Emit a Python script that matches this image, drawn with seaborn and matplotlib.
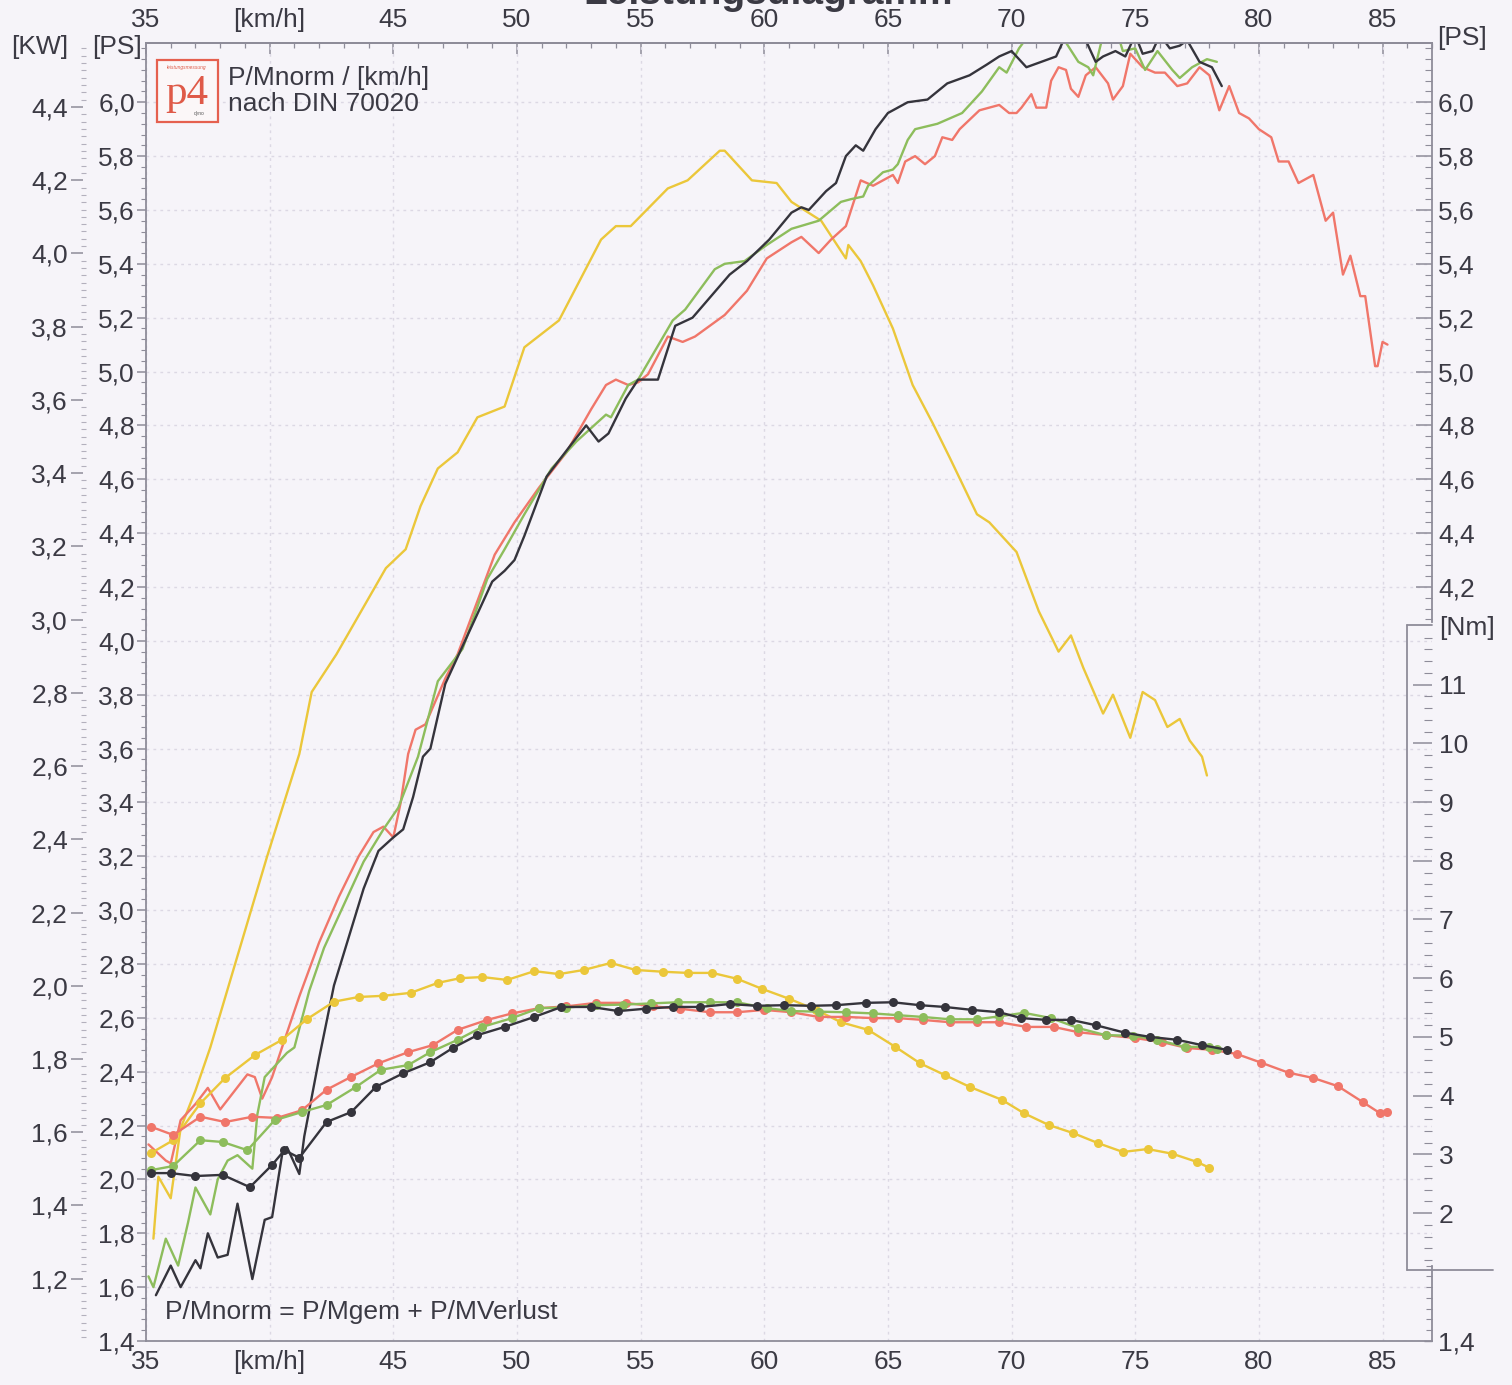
import matplotlib
matplotlib.use("Agg")
import numpy as np
import pandas as pd
import matplotlib.pyplot as plt
import seaborn as sns
from matplotlib.ticker import FixedLocator, FuncFormatter, MultipleLocator
from matplotlib.lines import Line2D
from matplotlib.patches import Rectangle

# ---------------- data ----------------
# Power curves [PS] vs speed [km/h]
yel_pw_v = [35.3, 35.5, 36.0, 36.4, 37.0, 37.6, 38.7, 39.9, 41.2, 41.7, 42.7, 44.7, 45.5, 46.1, 46.8,
            47.6, 48.4, 49.5, 50.3, 51.7, 53.4, 54.0, 54.6, 56.1, 56.9, 58.2, 58.4, 59.5, 60.5, 61.1,
            62.3, 63.3, 63.4, 63.9, 64.4, 65.2, 66.0, 66.8, 67.5, 68.6, 69.1, 70.2, 71.1, 71.9, 72.4,
            72.9, 73.7, 74.1, 74.8, 75.3, 75.8, 76.3, 76.8, 77.2, 77.7, 77.9]
yel_pw = [1.78, 2.01, 1.93, 2.19, 2.33, 2.49, 2.83, 3.20, 3.58, 3.81, 3.95, 4.27, 4.34, 4.50, 4.64,
          4.70, 4.83, 4.87, 5.09, 5.19, 5.49, 5.54, 5.54, 5.68, 5.71, 5.82, 5.82, 5.71, 5.70, 5.63,
          5.56, 5.42, 5.47, 5.41, 5.32, 5.16, 4.95, 4.81, 4.68, 4.47, 4.44, 4.33, 4.11, 3.96, 4.02,
          3.90, 3.73, 3.80, 3.64, 3.81, 3.78, 3.68, 3.71, 3.63, 3.57, 3.50]

blk_pw_v = [35.4, 36.0, 36.4, 37.0, 37.2, 37.5, 37.9, 38.3, 38.7, 39.3, 39.8, 40.1, 40.5, 40.7, 41.2,
            41.4, 42.0, 42.6, 43.2, 43.8, 44.4, 45.0, 45.4, 45.8, 46.2, 46.5, 47.1, 47.9, 49.0, 49.5,
            49.9, 50.3, 51.2, 52.2, 52.8, 53.3, 53.7, 54.4, 54.9, 55.7, 56.4, 57.1, 58.6, 59.3, 60.2,
            61.1, 61.5, 61.8, 62.5, 62.9, 63.3, 63.7, 64.0, 64.5, 65.0, 65.8, 66.6, 67.4, 68.3, 69.0,
            69.5, 70.0, 70.6, 71.2, 71.8, 72.2, 72.9, 73.4, 73.7, 74.2, 74.6, 75.0, 75.3, 75.7, 76.0,
            76.4, 76.8, 77.1, 77.6, 78.1, 78.5]
blk_pw = [1.57, 1.68, 1.60, 1.70, 1.67, 1.80, 1.71, 1.72, 1.91, 1.63, 1.85, 1.86, 2.09, 2.12, 2.02,
          2.16, 2.45, 2.72, 2.90, 3.08, 3.22, 3.27, 3.30, 3.42, 3.57, 3.60, 3.84, 4.00, 4.22, 4.26,
          4.30, 4.39, 4.61, 4.73, 4.80, 4.74, 4.77, 4.90, 4.97, 4.97, 5.17, 5.20, 5.36, 5.41, 5.49,
          5.59, 5.61, 5.60, 5.67, 5.70, 5.80, 5.84, 5.82, 5.90, 5.96, 6.00, 6.01, 6.07, 6.10, 6.14,
          6.17, 6.19, 6.13, 6.15, 6.17, 6.25, 6.25, 6.15, 6.17, 6.19, 6.17, 6.25, 6.18, 6.19, 6.25,
          6.20, 6.21, 6.23, 6.15, 6.13, 6.06]

grn_pw_v = [35.1, 35.3, 35.8, 36.3, 36.7, 37.0, 37.6, 37.9, 38.3, 38.7, 39.3, 39.5, 39.8, 40.3, 40.7,
            41.0, 41.6, 42.2, 43.0, 43.8, 44.6, 45.2, 46.0, 46.8, 47.8, 48.8, 49.5, 50.3, 51.4, 52.4,
            53.6, 53.8, 54.5, 54.9, 56.3, 56.8, 58.0, 58.4, 59.2, 60.1, 61.1, 62.2, 63.1, 63.5, 64.0,
            64.2, 64.8, 65.2, 65.4, 65.8, 66.1, 67.0, 68.0, 68.8, 69.5, 69.8, 70.3, 70.7, 72.0, 72.7,
            73.1, 73.3, 73.7, 74.3, 74.5, 75.0, 75.4, 75.9, 76.5, 76.8, 77.3, 77.9, 78.3]
grn_pw = [1.64, 1.60, 1.78, 1.68, 1.84, 1.97, 1.87, 2.00, 2.07, 2.09, 2.04, 2.24, 2.38, 2.43, 2.47,
          2.49, 2.70, 2.86, 3.02, 3.18, 3.30, 3.38, 3.57, 3.85, 3.97, 4.23, 4.34, 4.47, 4.64, 4.74,
          4.84, 4.83, 4.95, 4.97, 5.19, 5.23, 5.38, 5.40, 5.41, 5.47, 5.53, 5.56, 5.63, 5.64, 5.65,
          5.69, 5.74, 5.75, 5.77, 5.86, 5.90, 5.92, 5.96, 6.04, 6.13, 6.11, 6.20, 6.25, 6.25, 6.15,
          6.13, 6.10, 6.25, 6.25, 6.19, 6.20, 6.12, 6.19, 6.12, 6.09, 6.13, 6.16, 6.15]

red_pw_v = [35.1, 35.8, 36.0, 36.4, 37.0, 37.5, 38.0, 39.1, 39.4, 39.7, 40.1, 40.5, 41.2, 42.0, 42.8,
            43.6, 44.2, 44.6, 45.0, 45.3, 45.6, 45.9, 46.3, 47.1, 47.6, 49.1, 49.9, 50.9, 52.0, 53.0,
            53.6, 54.0, 54.5, 54.9, 55.3, 56.1, 56.7, 57.2, 58.4, 59.3, 60.1, 61.1, 61.5, 62.2, 62.7,
            63.3, 63.9, 64.4, 64.8, 65.2, 65.4, 65.7, 66.1, 66.5, 66.9, 67.2, 67.6, 67.9, 68.7, 69.5,
            69.9, 70.2, 70.4, 70.8, 71.0, 71.4, 71.6, 71.9, 72.2, 72.4, 72.7, 73.0, 73.4, 73.9, 74.1,
            74.5, 74.8, 75.3, 75.8, 76.2, 76.7, 77.1, 77.6, 78.0, 78.4, 78.8, 79.2, 79.6, 80.0, 80.5,
            80.8, 81.2, 81.6, 82.2, 82.7, 83.0, 83.4, 83.7, 84.1, 84.3, 84.7, 84.8, 85.0, 85.2]
red_pw = [2.13, 2.07, 2.06, 2.22, 2.28, 2.34, 2.26, 2.39, 2.38, 2.30, 2.38, 2.49, 2.68, 2.88, 3.05,
          3.20, 3.29, 3.31, 3.27, 3.40, 3.58, 3.67, 3.69, 3.86, 3.95, 4.32, 4.44, 4.57, 4.70, 4.86,
          4.95, 4.97, 4.95, 4.96, 4.99, 5.13, 5.11, 5.13, 5.21, 5.30, 5.42, 5.48, 5.50, 5.44, 5.49,
          5.54, 5.71, 5.69, 5.71, 5.73, 5.70, 5.78, 5.80, 5.77, 5.80, 5.87, 5.86, 5.90, 5.97, 5.99,
          5.96, 5.96, 5.98, 6.03, 5.98, 5.98, 6.08, 6.13, 6.12, 6.05, 6.02, 6.10, 6.13, 6.07, 6.01,
          6.06, 6.18, 6.13, 6.11, 6.11, 6.06, 6.07, 6.13, 6.10, 5.97, 6.06, 5.96, 5.94, 5.90, 5.87,
          5.78, 5.78, 5.70, 5.73, 5.56, 5.59, 5.36, 5.43, 5.28, 5.28, 5.02, 5.02, 5.11, 5.10]

# Torque curves [Nm] vs speed [km/h]
yel_tq_v = [35.2, 36.1, 37.2, 38.2, 39.4, 40.5, 41.5, 42.6, 43.6, 44.6, 45.7, 46.8, 47.7, 48.6, 49.6,
            50.7, 51.7, 52.7, 53.8, 54.8, 55.9, 56.9, 57.9, 58.9, 59.9, 61.0, 62.1, 63.1, 64.2, 65.3,
            66.3, 67.3, 68.3, 69.6, 70.5, 71.5, 72.5, 73.5, 74.5, 75.5, 76.5, 77.5, 78.0]
yel_tq = [3.02, 3.24, 3.87, 4.30, 4.69, 4.95, 5.30, 5.60, 5.68, 5.70, 5.75, 5.92, 6.00, 6.02, 5.97,
          6.12, 6.07, 6.14, 6.26, 6.14, 6.11, 6.09, 6.09, 5.99, 5.82, 5.65, 5.46, 5.25, 5.12, 4.83,
          4.55, 4.35, 4.15, 3.93, 3.70, 3.50, 3.36, 3.19, 3.04, 3.09, 3.01, 2.87, 2.77]

blk_tq_v = [35.2, 36.0, 37.0, 38.1, 39.2, 40.1, 40.6, 41.2, 42.3, 43.3, 44.3, 45.4, 46.5, 47.4, 48.4,
            49.5, 50.7, 51.8, 53.0, 54.1, 55.2, 56.3, 57.4, 58.6, 59.7, 60.8, 61.9, 62.9, 64.1, 65.2,
            66.3, 67.3, 68.4, 69.5, 70.4, 71.4, 72.4, 73.4, 74.6, 75.6, 76.7, 77.7, 78.7]
blk_tq = [2.68, 2.68, 2.63, 2.65, 2.44, 2.82, 3.07, 2.94, 3.55, 3.72, 4.15, 4.38, 4.57, 4.81, 5.03,
          5.17, 5.34, 5.51, 5.51, 5.44, 5.48, 5.51, 5.51, 5.56, 5.53, 5.54, 5.53, 5.54, 5.58, 5.59,
          5.54, 5.51, 5.46, 5.42, 5.32, 5.29, 5.29, 5.20, 5.07, 5.00, 4.95, 4.86, 4.78]

grn_tq_v = [35.2, 36.1, 37.2, 38.1, 39.1, 40.2, 41.3, 42.3, 43.5, 44.5, 45.6, 46.5, 47.6, 48.6, 49.8,
            50.9, 52.0, 53.2, 54.3, 55.4, 56.5, 57.8, 58.9, 60.1, 61.1, 62.2, 63.3, 64.4, 65.4, 66.4,
            67.5, 68.6, 69.5, 70.5, 71.6, 72.7, 73.8, 74.9, 75.9, 77.0, 78.0, 78.3]
grn_tq = [2.73, 2.80, 3.24, 3.21, 3.07, 3.58, 3.72, 3.84, 4.15, 4.44, 4.52, 4.74, 4.95, 5.17, 5.32,
          5.49, 5.50, 5.54, 5.55, 5.57, 5.59, 5.59, 5.59, 5.49, 5.44, 5.43, 5.42, 5.40, 5.37, 5.34,
          5.30, 5.30, 5.35, 5.41, 5.32, 5.15, 5.03, 5.02, 4.95, 4.83, 4.83, 4.80]

red_tq_v = [35.2, 36.1, 37.2, 38.2, 39.3, 40.3, 41.3, 42.3, 43.3, 44.4, 45.6, 46.6, 47.6, 48.8, 49.8,
            50.9, 52.0, 53.2, 54.4, 55.5, 56.6, 57.8, 58.9, 60.0, 61.1, 62.2, 63.3, 64.4, 65.4, 66.4,
            67.5, 68.6, 69.5, 70.6, 71.7, 72.7, 73.8, 75.0, 76.1, 77.1, 78.1, 79.1, 80.1, 81.2, 82.2,
            83.2, 84.2, 84.9, 85.2]
red_tq = [3.47, 3.33, 3.64, 3.55, 3.64, 3.62, 3.75, 4.10, 4.32, 4.55, 4.74, 4.86, 5.12, 5.29, 5.40,
          5.49, 5.52, 5.58, 5.58, 5.52, 5.48, 5.42, 5.42, 5.46, 5.42, 5.34, 5.34, 5.32, 5.32, 5.29,
          5.25, 5.25, 5.25, 5.17, 5.17, 5.08, 5.03, 4.98, 4.91, 4.81, 4.78, 4.71, 4.56, 4.39, 4.30,
          4.16, 3.89, 3.70, 3.72]

x_ticks = [35, 40, 45, 50, 55, 60, 65, 70, 75, 80, 85]
x_tick_labels = ["35", "[km/h]", "45", "50", "55", "60", "65", "70", "75", "80", "85"]
ps_ticks_left = [1.4, 1.6, 1.8, 2.0, 2.2, 2.4, 2.6, 2.8, 3.0, 3.2, 3.4, 3.6, 3.8, 4.0, 4.2, 4.4,
                 4.6, 4.8, 5.0, 5.2, 5.4, 5.6, 5.8, 6.0]
ps_ticks_right = [4.2, 4.4, 4.6, 4.8, 5.0, 5.2, 5.4, 5.6, 5.8, 6.0]
kw_ticks = [1.2, 1.4, 1.6, 1.8, 2.0, 2.2, 2.4, 2.6, 2.8, 3.0, 3.2, 3.4, 3.6, 3.8, 4.0, 4.2, 4.4]
nm_ticks = [2, 3, 4, 5, 6, 7, 8, 9, 10, 11]

# ---------------- styling ----------------
BG = "#f6f4f9"
TXT = "#3b3a44"
SPINE = "#8e8c99"
GRID = "#dcd8e4"
C_RED = "#f0766a"
C_GRN = "#8dbd5c"
C_YEL = "#ebc73a"
C_BLK = "#35343c"

sns.set_style("white")
plt.rcParams["font.family"] = ["Liberation Sans", "DejaVu Sans"]
FS = 19

W, H, DPI = 1512, 1385, 100
fig = plt.figure(figsize=(W / DPI, H / DPI), dpi=DPI, facecolor=BG)


def fx(p):
    return p / W


def fy(p):
    return 1 - p / H


def pt(px):
    return px * 72 / DPI


L, R, T, B = 146, 1432, 43, 1341
ax = fig.add_axes([fx(L), fy(B), (R - L) / W, (B - T) / H])
ax.set_facecolor(BG)

X_LIM = (35, 87.0)
PS_LIM = (1.4, 6.22)
KW_PER_PS = 0.7355
NM_LIM = (-0.18, 21.93)
NM_BOX = (1.03, 12.02)

ax.set_xlim(*X_LIM)
ax.set_ylim(*PS_LIM)

comma = FuncFormatter(lambda v, p: f"{v:.1f}".replace(".", ","))

# main axis styling
for s in ["left", "bottom", "top"]:
    ax.spines[s].set_color(SPINE)
    ax.spines[s].set_linewidth(1.3)
ax.spines["right"].set_visible(False)

ax.xaxis.set_major_locator(FixedLocator(x_ticks))
ax.xaxis.set_minor_locator(MultipleLocator(1))
ax.set_xticklabels(x_tick_labels)
ax.tick_params(axis="x", which="major", direction="in", length=pt(13), width=1.1,
               color=SPINE, labelcolor=TXT, labelsize=FS, pad=pt(9), top=False)
ax.tick_params(axis="x", which="minor", direction="in", length=pt(6), width=0.9,
               color=SPINE, top=False)

ax.yaxis.set_major_locator(FixedLocator(ps_ticks_left))
ax.yaxis.set_minor_locator(MultipleLocator(0.04))
ax.yaxis.set_major_formatter(comma)
ax.tick_params(axis="y", which="major", direction="out", length=pt(9), width=1.1,
               color=SPINE, labelcolor=TXT, labelsize=FS, pad=pt(2))
ax.tick_params(axis="y", which="minor", direction="out", length=pt(5), width=0.8, color=SPINE)

ax.grid(True, which="major", axis="both", color=GRID, linestyle=(0, (2, 3)), linewidth=1.0)
ax.set_axisbelow(True)

# top secondary axis
sec = ax.secondary_xaxis("top")
sec.xaxis.set_major_locator(FixedLocator(x_ticks))
sec.xaxis.set_minor_locator(MultipleLocator(1))
sec.set_xticklabels(x_tick_labels)
sec.spines["top"].set_color(SPINE)
sec.spines["top"].set_linewidth(1.3)
sec.tick_params(axis="x", which="major", direction="in", length=pt(11), width=1.1,
                color=SPINE, labelcolor=TXT, labelsize=FS, pad=pt(11))
sec.tick_params(axis="x", which="minor", direction="in", length=pt(5), width=0.9, color=SPINE)

# KW axis (left, outward)
ax_kw = ax.twinx()
ax_kw.set_ylim(PS_LIM[0] * KW_PER_PS, PS_LIM[1] * KW_PER_PS)
ax_kw.yaxis.set_ticks_position("left")
ax_kw.spines["left"].set_position(("outward", pt(L - 83)))
for s in ax_kw.spines.values():
    s.set_visible(False)
ax_kw.yaxis.set_major_locator(FixedLocator(kw_ticks))
ax_kw.yaxis.set_minor_locator(MultipleLocator(0.02))
ax_kw.yaxis.set_major_formatter(comma)
ax_kw.tick_params(axis="y", which="major", direction="out", length=pt(12), width=1.1,
                  color=SPINE, labelcolor=TXT, labelsize=FS, pad=pt(3))
ax_kw.tick_params(axis="y", which="minor", direction="inout", length=pt(5), width=0.8,
                  color="#b3b0bd")

# right PS axis (upper part)
ax_psr = ax.twinx()
ax_psr.set_ylim(*PS_LIM)
for s in ["left", "top", "bottom"]:
    ax_psr.spines[s].set_visible(False)
ax_psr.spines["right"].set_bounds(4.07, PS_LIM[1])
ax_psr.spines["right"].set_color(SPINE)
ax_psr.spines["right"].set_linewidth(1.3)
ax_psr.yaxis.set_major_locator(FixedLocator(ps_ticks_right))
ax_psr.yaxis.set_minor_locator(FixedLocator(
    [v for v in np.arange(4.08, 6.21, 0.04) if min(abs(v - t) for t in ps_ticks_right) > 0.01]))
ax_psr.yaxis.set_major_formatter(comma)
ax_psr.tick_params(axis="y", which="major", direction="in", length=pt(16), width=1.1,
                   color=SPINE, labelcolor=TXT, labelsize=FS, pad=pt(6))
ax_psr.tick_params(axis="y", which="minor", direction="in", length=pt(7), width=0.8, color=SPINE)

# right PS axis (lower short part)
ax_psr2 = ax.twinx()
ax_psr2.set_ylim(*PS_LIM)
for s in ["left", "top", "bottom"]:
    ax_psr2.spines[s].set_visible(False)
ax_psr2.spines["right"].set_bounds(PS_LIM[0], 1.68)
ax_psr2.spines["right"].set_color(SPINE)
ax_psr2.spines["right"].set_linewidth(1.3)
ax_psr2.yaxis.set_major_locator(FixedLocator([1.4]))
ax_psr2.yaxis.set_minor_locator(FixedLocator(list(np.arange(1.44, 1.69, 0.04))))
ax_psr2.yaxis.set_major_formatter(comma)
ax_psr2.tick_params(axis="y", which="major", direction="in", length=pt(8), width=1.0,
                    color=SPINE, labelcolor=TXT, labelsize=FS, pad=pt(6))
ax_psr2.tick_params(axis="y", which="minor", direction="in", length=pt(6), width=0.8, color=SPINE)

# Nm axis (right, boxed)
ax_nm = ax.twinx()
ax_nm.set_ylim(*NM_LIM)
for s in ax_nm.spines.values():
    s.set_visible(False)
ax_nm.yaxis.set_major_locator(FixedLocator(nm_ticks))
ax_nm.yaxis.set_minor_locator(FixedLocator(
    [v for v in np.arange(1.2, 12.0, 0.2) if abs(v - round(v)) > 0.05]))
ax_nm.tick_params(axis="y", which="major", direction="in", length=pt(19), width=1.1,
                  color=SPINE, labelcolor=TXT, labelsize=FS, pad=pt(7))
ax_nm.tick_params(axis="y", which="minor", direction="in", length=pt(8), width=0.8, color=SPINE)
xb = (1407 - L) / (R - L)
xr = (1493 - L) / (R - L)
tr = ax_nm.get_yaxis_transform()
for xs, ys in [([xb, xb], [NM_BOX[1], NM_BOX[0]]), ([xb, 1.0], [NM_BOX[1], NM_BOX[1]]),
               ([xb, xr], [NM_BOX[0], NM_BOX[0]])]:
    ax_nm.add_line(Line2D(xs, ys, transform=tr, color=SPINE, lw=1.3, clip_on=False))

# ---------------- curves ----------------
LW = 1.7
for v, p, c in [(yel_pw_v, yel_pw, C_YEL), (red_pw_v, red_pw, C_RED),
                (grn_pw_v, grn_pw, C_GRN), (blk_pw_v, blk_pw, C_BLK)]:
    df = pd.DataFrame({"v": v, "p": p})
    sns.lineplot(data=df, x="v", y="p", ax=ax, color=c, linewidth=LW, sort=False,
                 estimator=None, legend=False)

for v, q, c in [(yel_tq_v, yel_tq, C_YEL), (red_tq_v, red_tq, C_RED),
                (grn_tq_v, grn_tq, C_GRN), (blk_tq_v, blk_tq, C_BLK)]:
    df = pd.DataFrame({"v": v, "q": q})
    sns.lineplot(data=df, x="v", y="q", ax=ax_nm, color=c, linewidth=LW, sort=False,
                 estimator=None, legend=False, marker="o", markersize=6.5,
                 markeredgewidth=0, markerfacecolor=c)

for a in [ax, ax_kw, ax_psr, ax_psr2, ax_nm]:
    a.set_xlabel("")
    a.set_ylabel("")
ax.set_xlim(*X_LIM)

# ---------------- texts ----------------
fig.text(fx(40), fy(47), "[KW]", fontsize=FS, color=TXT, ha="center", va="center")
fig.text(fx(117), fy(47), "[PS]", fontsize=FS, color=TXT, ha="center", va="center")
fig.text(fx(1437), fy(38), "[PS]", fontsize=FS, color=TXT, ha="left", va="center")
fig.text(fx(1439), fy(628), "[Nm]", fontsize=FS, color=TXT, ha="left", va="center")

fig.text(fx(768), fy(4), "Leistungsdiagramm", fontsize=28, fontweight="bold", color=TXT,
         ha="center", va="baseline")

fig.text(fx(228), fy(78), "P/Mnorm / [km/h]", fontsize=FS, color=TXT, ha="left", va="center")
fig.text(fx(228), fy(104), "nach DIN 70020", fontsize=FS, color=TXT, ha="left", va="center")
fig.text(fx(165), fy(1312), "P/Mnorm = P/Mgem + P/MVerlust", fontsize=FS, color=TXT,
         ha="left", va="center")

# logo
fig.add_artist(Rectangle((fx(157), fy(122)), fx(218) - fx(157), fy(60) - fy(122),
                         transform=fig.transFigure, facecolor="#fbf7f8", edgecolor="#e5604f",
                         lw=1.6))
fig.text(fx(187), fy(94), "p4", fontsize=31, color="#df5a48", ha="center", va="center",
         family=["Liberation Serif", "DejaVu Serif"])
fig.text(fx(187), fy(68), "leistungsmessung", fontsize=3.5, color="#df5a48", ha="center",
         va="center", style="italic")
fig.text(fx(199), fy(114), "dyno", fontsize=3.5, color="#555", ha="center", va="center")

fig.savefig("out.png", dpi=DPI, facecolor=BG)
